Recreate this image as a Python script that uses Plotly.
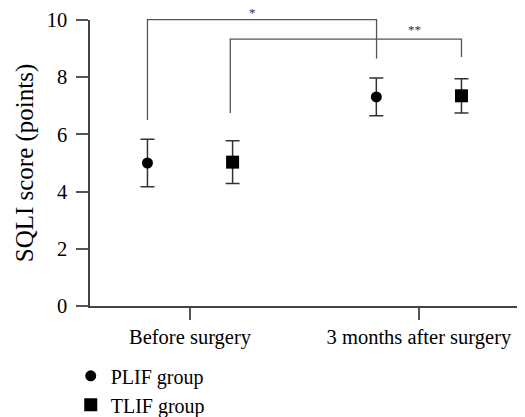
import plotly.graph_objects as go

categories = ["Before surgery", "3 months after surgery"]
cat_pos = [0, 1]
plif_mean = [5.0, 7.31]
plif_err = [0.83, 0.66]
tlif_mean = [5.03, 7.35]
tlif_err = [0.75, 0.60]
y_ticks = [0, 2, 4, 6, 8, 10]

# significance brackets
bracket_x = [[-0.186, 0.815], [0.176, 1.186]]
bracket_y = [[6.5, 10.01, 8.65], [6.75, 9.33, 8.71]]
sig_labels = ["*", "**"]
sig_label_x = [0.275, 0.98]
sig_label_y = [10.27, 9.67]

offset = 0.186
FONT = "Liberation Serif"

fig = go.Figure()
fig.add_trace(go.Scatter(
    x=[c - offset for c in cat_pos], y=plif_mean, mode="markers", name="PLIF group",
    marker=dict(symbol="circle", size=11, color="black"),
    error_y=dict(type="data", array=plif_err, color="#333", thickness=1.5, width=7),
))
fig.add_trace(go.Scatter(
    x=[c + offset for c in cat_pos], y=tlif_mean, mode="markers", name="TLIF group",
    marker=dict(symbol="square", size=13, color="black"),
    error_y=dict(type="data", array=tlif_err, color="#333", thickness=1.5, width=7),
))

for bx, by in zip(bracket_x, bracket_y):
    ys = [v / 10 for v in by]
    fig.add_shape(type="path", xref="x", yref="paper",
                  path=f"M {bx[0]} {ys[0]} L {bx[0]} {ys[1]} L {bx[1]} {ys[1]} L {bx[1]} {ys[2]}",
                  line=dict(color="#555", width=1.3))

for lab, lx, ly in zip(sig_labels, sig_label_x, sig_label_y):
    fig.add_annotation(x=lx, y=ly / 10, xref="x", yref="paper", text=lab, showarrow=False,
                       font=dict(family=FONT, size=13, color="#333"), yanchor="middle")

fig.update_layout(
    width=517, height=420,
    margin=dict(l=82, r=7, t=12, b=122, autoexpand=False),
    paper_bgcolor="white", plot_bgcolor="white",
    font=dict(family=FONT, size=20.5, color="black"),
    showlegend=True,
    legend=dict(x=-0.045, y=-0.176, xanchor="left", yanchor="top", maxheight=150,
                font=dict(family=FONT, size=20), bgcolor="rgba(0,0,0,0)",
                tracegroupgap=0, itemsizing="trace"),
)
fig.update_xaxes(range=[-0.437, 1.433], tickvals=cat_pos, ticktext=categories, automargin=False,
                 showgrid=False, zeroline=False, showline=True, linecolor="#444", linewidth=1.5,
                 ticks="outside", ticklen=12, tickwidth=1.5, tickcolor="#555")
fig.update_yaxes(range=[0, 10], tickvals=y_ticks, automargin=False, ticklabelstandoff=5,
                 title=dict(text="SQLI score (points)", standoff=6),
                 showgrid=False, zeroline=False, showline=True, linecolor="#444", linewidth=1.5,
                 ticks="outside", ticklen=12, tickwidth=1.5, tickcolor="#555")

fig.write_html("out.html")
